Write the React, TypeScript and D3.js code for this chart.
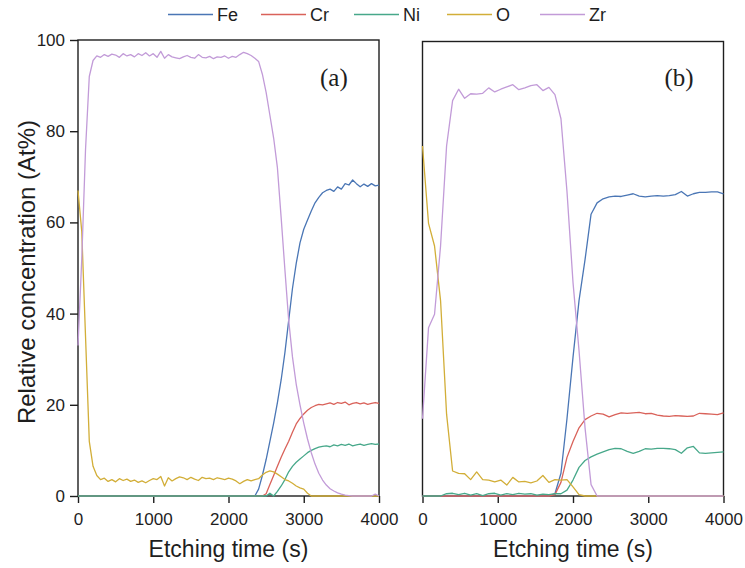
import * as d3 from "d3";
import { useEffect, useRef } from "react";

// panel (a): sampled every 50 s
const timeA = [
  0, 50, 100, 150, 200, 250, 300, 350, 400, 450, 500, 550, 600, 650, 700, 750, 800, 850, 900, 950,
  1000, 1050, 1100, 1150, 1200, 1250, 1300, 1350, 1400, 1450, 1500, 1550, 1600, 1650, 1700, 1750, 1800, 1850, 1900, 1950,
  2000, 2050, 2100, 2150, 2200, 2250, 2300, 2350, 2400, 2450, 2500, 2550, 2600, 2650, 2700, 2750, 2800, 2850, 2900, 2950,
  3000, 3050, 3100, 3150, 3200, 3250, 3300, 3350, 3400, 3450, 3500, 3550, 3600, 3650, 3700, 3750, 3800, 3850, 3900, 3950,
  4000,
];
const feA = [
  0, 0, 0, 0, 0, 0, 0, 0, 0, 0, 0, 0, 0, 0, 0, 0, 0, 0, 0, 0,
  0, 0, 0, 0, 0, 0, 0, 0, 0, 0, 0, 0, 0, 0, 0, 0, 0, 0, 0, 0,
  0, 0, 0, 0, 0, 0, 0, 0, 1.5, 4.5, 8, 12, 16, 20.5, 25.5, 31.5, 38.5, 45.5, 51, 55.5,
  58.5, 60.5, 62.5, 64.3, 65.5, 66.5, 67, 67.3, 66.8, 67.8, 67.3, 68.5, 68.2, 69.3, 68.5, 67.8, 68.4, 67.9, 68.5, 68,
  68.2,
];
const crA = [
  0, 0, 0, 0, 0, 0, 0, 0, 0, 0, 0, 0, 0, 0, 0, 0, 0, 0, 0, 0,
  0, 0, 0, 0, 0, 0, 0, 0, 0, 0, 0, 0, 0, 0, 0, 0, 0, 0, 0, 0,
  0, 0, 0, 0, 0, 0, 0, 0, 0, 0, 0.5, 2.5, 4.5, 6.5, 8.5, 10.3, 12, 14, 15.8, 17,
  18, 18.8, 19.4, 19.8, 20.1, 20, 20.2, 20.4, 20.1, 20.5, 20.3, 20.6, 20, 20.3, 20.5, 20.2, 20.4, 20.1, 20.3, 20.5,
  20.3,
];
const niA = [
  0, 0, 0, 0, 0, 0, 0, 0, 0, 0, 0, 0, 0, 0, 0, 0, 0, 0, 0, 0,
  0, 0, 0, 0, 0, 0, 0, 0, 0, 0, 0, 0, 0, 0, 0, 0, 0, 0, 0, 0,
  0, 0, 0, 0, 0, 0, 0, 0, 0, 0, 0, 0.6, 0, 1, 2.2, 3.6, 5.3, 6.5, 7.4, 8.1,
  8.8, 9.5, 10, 10.4, 10.7, 10.9, 11, 10.8, 11.2, 11, 11.3, 11.1, 11.4, 11, 11.2, 11.4, 11.1, 11.3, 11.5, 11.3,
  11.4,
];
const oA = [
  67, 58, 35, 12, 6.5, 4.5, 3.6, 3.9, 3.2, 3.6, 3.1, 3.8, 3.4, 3.7, 3.2, 3.5, 3, 3.3, 2.9, 3.4,
  3.8, 3.6, 4.3, 2.2, 4, 3.3, 3.8, 4.2, 4, 3.6, 4.1, 3.7, 3.4, 4.1, 3.8, 3.9, 3.6, 4, 3.8, 3.6,
  3.9, 3.7, 3.3, 2.7, 3.2, 3.6, 3.3, 3.6, 3.8, 4.6, 5.2, 5.5, 5.3, 4.8, 4.2, 3.6, 3.3, 2.8, 2.2, 1.8,
  1.5, 0.6, 0, 0, 0, 0, 0, 0, 0, 0, 0, 0, 0, 0, 0, 0, 0, 0, 0, 0,
  0,
];
const zrA = [
  33, 52, 76, 92, 95.5, 96.5, 96.2, 96.8, 96.4, 96.9, 96.7, 96.2, 97, 96.5, 96.8, 96.3, 97, 96.6, 97.2, 96.5,
  97, 96.2, 97.5, 96, 96.8, 96.3, 96.1, 95.9, 96.3, 96.6, 96.2, 96, 96.8, 96.2, 96.1, 96.4, 95.9, 96.3, 96.2, 96.5,
  96, 96.4, 96.2, 96.8, 97.3, 97, 96.6, 96, 95.3, 92.5, 88.5, 83.5, 78.5, 72, 61, 49.5, 38.5, 30.5, 24.5, 20,
  16, 12.5, 9.5, 7, 5, 3.5, 2.4, 1.6, 1.1, 0.7, 0.4, 0.2, 0.1, 0, 0, 0, 0, 0, 0, 0.4,
  0,
];

// panel (b): sampled every 80 s
const timeB = [
  0, 80, 160, 240, 320, 400, 480, 560, 640, 720, 800, 880, 960, 1040, 1120, 1200, 1280, 1360, 1440, 1520,
  1600, 1680, 1760, 1840, 1920, 2000, 2080, 2160, 2240, 2320, 2400, 2480, 2560, 2640, 2720, 2800, 2880, 2960, 3040, 3120,
  3200, 3280, 3360, 3440, 3520, 3600, 3680, 3760, 3840, 3920, 4000,
];
const feB = [
  0, 0, 0, 0, 0, 0, 0, 0, 0, 0, 0, 0, 0, 0, 0, 0, 0, 0, 0, 0,
  0, 0, 0.5, 5, 17, 30.5, 43, 52, 62, 64.5, 65.4, 65.8, 66, 65.9, 66.2, 66.5, 66, 65.8, 66, 66.1,
  66, 66.1, 66.3, 67, 66, 66.5, 66.8, 66.8, 66.9, 66.9, 66.5,
];
const crB = [
  0, 0, 0, 0, 0, 0, 0, 0, 0, 0, 0, 0, 0, 0, 0, 0, 0, 0, 0, 0,
  0, 0, 0.3, 3, 8.5, 12, 15, 16.8, 17.6, 18.2, 18, 17.4, 17.9, 18.3, 18.2, 18.3, 18.4, 18.1, 18.2, 17.8,
  17.6, 17.5, 17.7, 17.6, 17.5, 17.6, 18.2, 18.1, 18, 17.9, 18.3,
];
const niB = [
  0, 0, 0, 0, 0.5, 0.6, 0.3, 0.6, 0.2, 0.5, 0.1, 0.5, 0.6, 0.2, 0.5, 0.3, 0.6, 0.4, 0.5, 0.2,
  0.4, 0.3, 0.5, 0.5, 1.3, 3.5, 6.3, 7.8, 8.6, 9.2, 9.7, 10.2, 10.5, 10.4, 9.8, 9.4, 9.8, 10.4, 10.3, 10.5,
  10.5, 10.4, 10.2, 9.4, 10.6, 10.9, 9.5, 9.4, 9.5, 9.6, 9.7,
];
const oB = [
  77, 60, 55, 43, 18, 5.5, 5, 4.9, 3.6, 5.3, 3.6, 3.5, 3.1, 3.5, 2.4, 4.1, 3.1, 3.2, 2.9, 3.3,
  4.5, 3, 3.6, 3.5, 3.6, 2, 0.3, 0, 0, 0, 0, 0, 0, 0, 0, 0, 0, 0, 0, 0,
  0, 0, 0, 0, 0, 0, 0, 0, 0, 0, 0,
];
const zrB = [
  17, 37, 40, 55, 77, 87, 89.5, 87.5, 88.5, 88.4, 88.6, 89.8, 88.9, 89.5, 90, 90.5, 89.4, 89.8, 90.3, 90.5,
  89.2, 89.9, 88.3, 83, 67, 47, 32, 15, 2.5, 0, 0, 0, 0, 0, 0, 0, 0, 0, 0, 0,
  0, 0, 0, 0, 0, 0, 0, 0, 0, 0, 0,
];

const elements = ["Fe", "Cr", "Ni", "O", "Zr"];
const colors = ["#4a76b5", "#d9625a", "#47a88a", "#d2ae38", "#c29bd8"];
const xTicks = [0, 1000, 2000, 3000, 4000];
const yTicks = [0, 20, 40, 60, 80, 100];

const panels = [
  { label: "(a)", time: timeA, series: [feA, crA, niA, oA, zrA], left: 78, right: 379, top: 40 },
  { label: "(b)", time: timeB, series: [feB, crB, niB, oB, zrB], left: 422.5, right: 723.5, top: 41.5 },
];

const SANS = "'Liberation Sans', Arial, sans-serif";

export default function App() {
  const svgRef = useRef<SVGSVGElement>(null);

  useEffect(() => {
    const svg = d3.select(svgRef.current);
    svg.selectAll("*").remove();
    const bottom = 496;

    panels.forEach((p, pi) => {
      const x = d3.scaleLinear().domain([0, 4000]).range([p.left, p.right]);
      const y = d3.scaleLinear().domain([0, 100]).range([bottom, p.top]);
      const g = svg.append("g");

      // frame
      g.append("rect")
        .attr("x", p.left)
        .attr("y", p.top)
        .attr("width", p.right - p.left)
        .attr("height", bottom - p.top)
        .attr("fill", "none")
        .attr("stroke", "#1e1e1e")
        .attr("stroke-width", 1.4);

      // x axis
      const xAxis = g.append("g")
        .attr("transform", `translate(0,${bottom})`)
        .call(d3.axisBottom(x).tickValues(xTicks).tickSize(7).tickPadding(10).tickFormat(d3.format("d")));
      xAxis.select(".domain").remove();
      xAxis.selectAll("line").attr("stroke", "#1e1e1e").attr("stroke-width", 1.4);
      xAxis.selectAll("text").attr("font-family", SANS).attr("font-size", 17).attr("fill", "#1e1e1e");

      // y axis only on the first panel
      if (pi === 0) {
        const yAxis = g.append("g")
          .attr("transform", `translate(${p.left},0)`)
          .call(d3.axisLeft(y).tickValues(yTicks).tickSize(8).tickPadding(5));
        yAxis.select(".domain").remove();
        yAxis.selectAll("line").attr("stroke", "#1e1e1e").attr("stroke-width", 1.4);
        yAxis.selectAll("text").attr("font-family", SANS).attr("font-size", 17).attr("fill", "#1e1e1e");
      }

      const line = d3.line<number>()
        .x((d, i) => x(p.time[i]))
        .y((d) => y(d));

      g.selectAll(".series")
        .data(p.series)
        .join("path")
        .attr("d", (d) => line(d))
        .attr("fill", "none")
        .attr("stroke", (d, i) => colors[i])
        .attr("stroke-width", 1.3)
        .attr("stroke-linejoin", "round");

      g.append("text")
        .attr("x", (p.left + p.right) / 2)
        .attr("y", 557)
        .attr("text-anchor", "middle")
        .attr("font-family", SANS)
        .attr("font-size", 23)
        .attr("fill", "#1e1e1e")
        .text("Etching time (s)");

      g.append("text")
        .attr("x", p.right - 59)
        .attr("y", 86)
        .attr("font-family", "'Liberation Serif', 'Times New Roman', serif")
        .attr("font-size", 25)
        .attr("fill", "#1e1e1e")
        .text(p.label);
    });

    svg.append("text")
      .attr("transform", "translate(35,272) rotate(-90)")
      .attr("text-anchor", "middle")
      .attr("font-family", SANS)
      .attr("font-size", 24)
      .attr("fill", "#1e1e1e")
      .text("Relative concentration (At%)");

    // legend
    const lx = d3.scalePoint<string>().domain(elements).range([168, 168 + 93 * 4]);
    const legend = svg.append("g")
      .selectAll("g")
      .data(elements)
      .join("g")
      .attr("transform", (d) => `translate(${lx(d)},14.5)`);
    legend.append("line")
      .attr("x1", 0)
      .attr("x2", 45)
      .attr("stroke", (d, i) => colors[i])
      .attr("stroke-width", 1.4);
    legend.append("text")
      .attr("x", 49)
      .attr("y", 6.5)
      .attr("font-family", SANS)
      .attr("font-size", 18)
      .attr("fill", "#1e1e1e")
      .text((d) => d);
  }, []);

  return (
    <svg
      ref={svgRef}
      width={745}
      height={568}
      style={{ position: "absolute", left: 0, top: 0, background: "#fff" }}
    />
  );
}
